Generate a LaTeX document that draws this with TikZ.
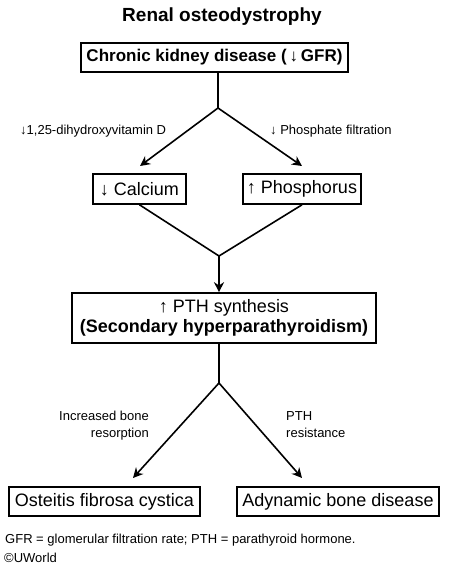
\documentclass[tikz,border=0pt]{standalone}
\usepackage{fontspec}
\setmainfont{Liberation Sans}
\usetikzlibrary{arrows.meta}
\begin{document}
\begin{tikzpicture}[x=1pt,y=-1pt,
  box/.style={draw,line width=1.6pt,inner sep=0pt,align=center,font=\fontsize{18}{20}\selectfont},
  conn/.style={line width=1.6pt},
  arr/.style={line width=1.6pt,-{Stealth[length=10pt,width=10pt]}},
  lbl/.style={inner sep=0pt,font=\fontsize{13}{17}\selectfont}]
\useasboundingbox (0,0) rectangle (449,568);
\node[anchor=base,inner sep=0pt,font=\bfseries\fontsize{19}{22}\selectfont] (title) at (222,21) {Renal osteodystrophy};
\node[box,minimum width=267pt,minimum height=29pt,font=\bfseries\fontsize{17}{20}\selectfont] (ckd) at (214.5,57.5) {Chronic kidney disease (\,↓\,GFR)};
\node[box,minimum width=93pt,minimum height=30pt] (cal) at (139.5,189) {↓ Calcium};
\node[box,minimum width=118pt,minimum height=30pt] (phos) at (302,189) {↑ Phosphorus};
\node[box,minimum width=304pt,minimum height=50pt] (pth) at (224,318) {↑ PTH synthesis\\\textbf{(Secondary hyperparathyroidism)}};
\node[box,minimum width=191pt,minimum height=29pt] (ofc) at (104.5,501.5) {Osteitis fibrosa cystica};
\node[box,minimum width=202pt,minimum height=29pt] (abd) at (338,501.5) {Adynamic bone disease};
\coordinate (split1) at (218,108);
\coordinate (t1) at (140,166);
\coordinate (t2) at (302,166);
\coordinate (merge) at (219,256);
\coordinate (split2) at (219,383);
\coordinate (t3) at (133,478);
\coordinate (t4) at (302,478);
\draw[conn] (ckd.south -| split1) -- (split1);
\draw[arr] (split1) -- (t1);
\draw[arr] (split1) -- (t2);
\draw[conn] (cal.south) -- (merge) -- (phos.south);
\draw[arr] (merge) -- (pth.north -| merge);
\draw[conn] (pth.south -| split2) -- (split2);
\draw[arr] (split2) -- (t3);
\draw[arr] (split2) -- (t4);
\node[lbl,anchor=base west] (l1) at (20,134) {↓1,25-dihydroxyvitamin D};
\node[lbl,anchor=base west] (l2) at (270,134) {↓ Phosphate filtration};
\node[lbl,anchor=north east,align=right] (l3) at (149,411) {Increased bone\\resorption};
\node[lbl,anchor=north west,align=left] (l4) at (286,411) {PTH\\resistance};
\node[lbl,anchor=base west] (foot) at (5,543) {GFR = glomerular filtration rate; PTH = parathyroid hormone.};
\node[lbl,anchor=base west] (copy) at (4,562) {©UWorld};
\end{tikzpicture}
\end{document}
